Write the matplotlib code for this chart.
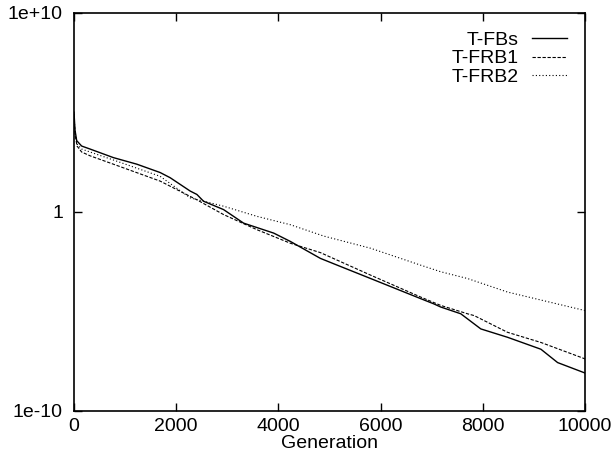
import numpy as np
import matplotlib
matplotlib.use('Agg')
import matplotlib.pyplot as plt
from matplotlib.ticker import FixedLocator, FixedFormatter, NullLocator

plt.rcParams['font.family'] = ['Liberation Sans', 'DejaVu Sans']

# generation / log10(value)
gen_fbs = [0, 20, 53, 150, 314, 770, 1229, 1686, 1882, 2274, 2405, 2535, 2927, 3319,
           3908, 4235, 4822, 5151, 5804, 6784, 7039, 7176, 7569, 7961, 8484, 9137,
           9464, 9986, 10000]
log_fbs = [5.0, 4.1, 3.57, 3.3, 3.15, 2.72, 2.39, 1.97, 1.71, 1.04, 0.87, 0.53, 0.11,
           -0.57, -1.07, -1.49, -2.34, -2.68, -3.35, -4.36, -4.62, -4.78, -5.12, -5.88,
           -6.30, -6.90, -7.57, -8.08, -8.1]

gen_frb1 = [0, 20, 60, 150, 314, 770, 1686, 2405, 2927, 3581, 4235, 4822, 5804, 6784,
            7176, 7700, 7830, 8484, 9137, 9986, 10000]
log_frb1 = [4.8, 3.9, 3.3, 3.0, 2.81, 2.39, 1.54, 0.60, -0.14, -0.90, -1.58, -2.05,
            -3.18, -4.28, -4.70, -5.12, -5.21, -6.05, -6.56, -7.37, -7.4]

gen_frb2 = [0, 20, 60, 150, 314, 770, 1686, 2274, 2927, 3581, 4235, 4888, 5804, 6784,
            7176, 7700, 8484, 9986, 10000]
log_frb2 = [4.9, 4.0, 3.4, 3.15, 3.0, 2.6, 1.78, 0.70, 0.28, -0.23, -0.65, -1.22,
            -1.83, -2.68, -3.01, -3.35, -4.03, -4.95, -4.97]

fig = plt.figure(figsize=(6.12, 4.59), dpi=100)
ax = fig.add_axes([0.1209, 0.1046, 0.835, 0.868])

ax.plot(gen_fbs, 10.0 ** np.array(log_fbs), color='black', lw=1.0,
        ls='-', label='T-FBs')
ax.plot(gen_frb1, 10.0 ** np.array(log_frb1), color='black', lw=0.8,
        ls=(0, (3, 1.5)), label='T-FRB1')
ax.plot(gen_frb2, 10.0 ** np.array(log_frb2), color='black', lw=0.8,
        ls=(0, (1, 2)), label='T-FRB2')

ax.set_yscale('log')
ax.set_xlim(0, 10000)
ax.set_ylim(1e-10, 1e10)
ax.set_xticks(np.arange(0, 10001, 2000))
ax.yaxis.set_major_locator(FixedLocator([1e-10, 1, 1e10]))
ax.yaxis.set_major_formatter(FixedFormatter(['1e-10', '1', '1e+10']))
ax.yaxis.set_minor_locator(NullLocator())
ax.tick_params(direction='in', length=6, width=1, top=True, right=True,
               labelsize=14)
ax.tick_params(axis='x', pad=5)
ax.tick_params(axis='y', pad=8)
ax.set_xlabel('Generation', fontsize=14, labelpad=0)
for s in ax.spines.values():
    s.set_linewidth(1.2)

ax.legend(loc='upper right', bbox_to_anchor=(0.965, 0.953), frameon=False,
          markerfirst=False, handlelength=1.8, fontsize=14,
          labelspacing=0.05, handletextpad=0.7, borderpad=0, borderaxespad=0)

fig.savefig('out.png', dpi=100)
